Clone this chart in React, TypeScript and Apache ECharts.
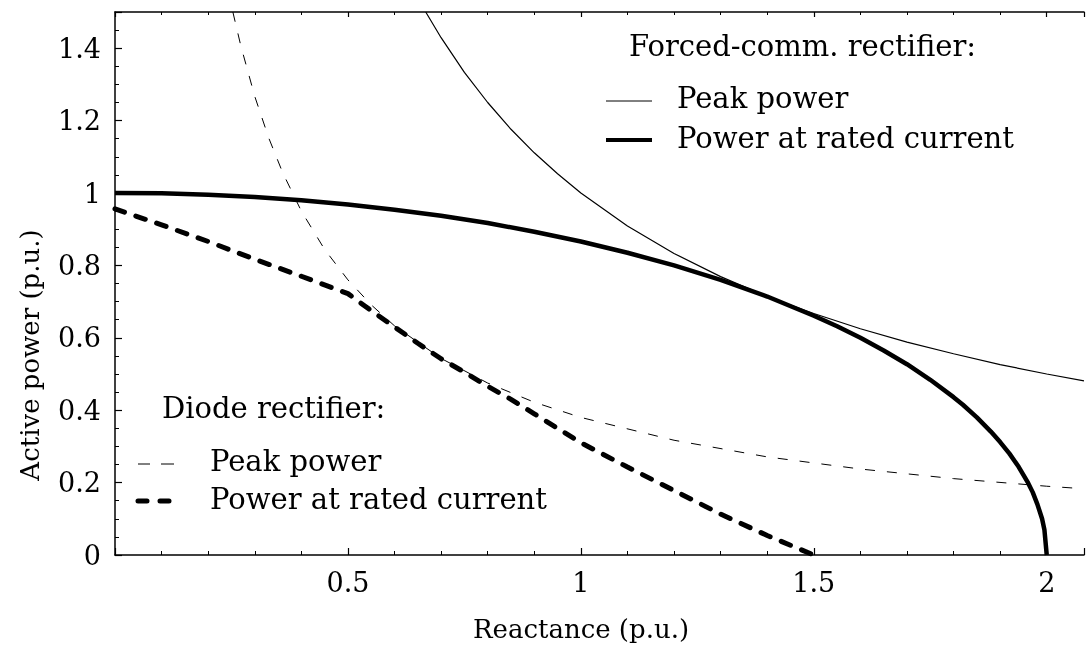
import React, { useEffect, useRef } from "react";
import * as echarts from "echarts";

// Forced-commutated rectifier
const forcedPeakX = [0.667, 0.7, 0.75, 0.8, 0.85, 0.9, 0.95, 1.0, 1.1, 1.2, 1.3, 1.4, 1.5, 1.6, 1.7, 1.8, 1.9, 2.0, 2.08];
const forcedPeakY = [1.5, 1.429, 1.333, 1.25, 1.176, 1.111, 1.053, 1.0, 0.909, 0.833, 0.769, 0.714, 0.667, 0.625, 0.588, 0.556, 0.526, 0.5, 0.481];
const forcedRatedX = [0, 0.1, 0.2, 0.3, 0.4, 0.5, 0.6, 0.7, 0.8, 0.9, 1.0, 1.1, 1.2, 1.3, 1.4, 1.5, 1.55, 1.6, 1.65, 1.7, 1.75, 1.8, 1.82, 1.85, 1.88, 1.9, 1.92, 1.94, 1.96, 1.97, 1.98, 1.99, 1.995, 2.0];
const forcedRatedY = [1.0, 0.999, 0.995, 0.989, 0.98, 0.968, 0.954, 0.937, 0.917, 0.893, 0.866, 0.835, 0.8, 0.76, 0.714, 0.661, 0.632, 0.6, 0.565, 0.527, 0.484, 0.436, 0.415, 0.38, 0.341, 0.312, 0.28, 0.243, 0.199, 0.173, 0.14, 0.1, 0.07, 0];

// Diode rectifier
const diodePeakX = [0.253, 0.27, 0.3, 0.33, 0.36, 0.4, 0.45, 0.5, 0.55, 0.6, 0.7, 0.8, 0.9, 1.0, 1.2, 1.4, 1.6, 1.8, 2.0, 2.08];
const diodePeakY = [1.5, 1.407, 1.267, 1.152, 1.056, 0.95, 0.844, 0.76, 0.691, 0.633, 0.543, 0.475, 0.422, 0.38, 0.317, 0.271, 0.2375, 0.211, 0.19, 0.183];
const diodeRatedX = [0, 0.1, 0.2, 0.3, 0.4, 0.5, 0.55, 0.6, 0.65, 0.7, 0.75, 0.8, 0.85, 0.9, 0.95, 1.0, 1.1, 1.2, 1.3, 1.4, 1.5];
const diodeRatedY = [0.956, 0.912, 0.866, 0.817, 0.77, 0.722, 0.675, 0.63, 0.585, 0.542, 0.505, 0.466, 0.43, 0.39, 0.35, 0.31, 0.243, 0.178, 0.113, 0.054, 0];

const xTickLabels = ["0.5", "1", "1.5", "2"];
const yTickLabels = ["0", "0.2", "0.4", "0.6", "0.8", "1", "1.2", "1.4"];

const xAxisTitle = "Reactance (p.u.)";
const yAxisTitle = "Active power (p.u.)";
const forcedTitle = "Forced-comm. rectifier:";
const diodeTitle = "Diode rectifier:";
const peakLabel = "Peak power";
const ratedLabel = "Power at rated current";

const zip = (xs: number[], ys: number[]) => xs.map((x, i) => [x, ys[i]]);

const FONT = "DejaVu Serif";
const FS = 27;
const LFS = 29;

export default function App() {
  const ref = useRef<HTMLDivElement>(null);
  useEffect(() => {
    if (!ref.current) return;
    const chart = echarts.init(ref.current, undefined, { renderer: "svg" });
    const axisCommon = {
      type: "value" as const,
      axisLine: { show: true, lineStyle: { color: "#000", width: 1.5 } },
      axisTick: { show: true, inside: true, length: 7, lineStyle: { color: "#000", width: 1.2 } },
      minorTick: { show: true, length: 4, lineStyle: { color: "#000", width: 1 } },
      splitLine: { show: false },
      minorSplitLine: { show: false },
    };
    const text = (t: string, x: number, y: number, size: number, extra: any = {}) => ({
      type: "text",
      x,
      y,
      ...extra,
      style: { text: t, fill: "#000", font: `${size}px "${FONT}"`, textVerticalAlign: "middle", ...(extra.style || {}) },
    });
    const seg = (x1: number, x2: number, y: number, w: number, dash?: number[]) => ({
      type: "line",
      shape: { x1, y1: y, x2, y2: y },
      style: { stroke: "#000", lineWidth: w, lineDash: dash, lineCap: dash && w > 2 ? "round" : "butt" },
    });
    chart.setOption({
      animation: false,
      grid: { left: 115, right: 0, top: 12, bottom: 107 },
      xAxis: [
        {
          ...axisCommon,
          position: "bottom",
          min: 0,
          max: 2.08,
          interval: 0.5,
          minorTick: { ...axisCommon.minorTick, splitNumber: 5 },
          axisLabel: {
            color: "#000",
            fontFamily: FONT,
            fontSize: FS,
            margin: 14,
            formatter: (v: number) => {
              const s = String(Math.round(v * 100) / 100);
              return xTickLabels.includes(s) ? s : "";
            },
          },
        },
        {
          ...axisCommon,
          position: "top",
          min: 0,
          max: 2.08,
          interval: 0.5,
          axisTick: { ...axisCommon.axisTick, length: 5 },
          minorTick: { ...axisCommon.minorTick, splitNumber: 5, length: 3 },
          axisLabel: { show: false },
        },
      ],
      yAxis: [
        {
          ...axisCommon,
          position: "left",
          min: 0,
          max: 1.5,
          interval: 0.2,
          minorTick: { ...axisCommon.minorTick, splitNumber: 4 },
          axisLabel: {
            color: "#000",
            fontFamily: FONT,
            fontSize: FS,
            margin: 14,
            formatter: (v: number) => {
              const s = String(Math.round(v * 100) / 100);
              return yTickLabels.includes(s) ? s : "";
            },
          },
        },
      ],
      series: [
        {
          type: "line",
          data: zip(diodePeakX, diodePeakY),
          showSymbol: false,
          lineStyle: { color: "#000", width: 1, type: [10, 12] },
        },
        {
          type: "line",
          data: zip(forcedPeakX, forcedPeakY),
          showSymbol: false,
          lineStyle: { color: "#000", width: 1.2 },
        },
        {
          type: "line",
          data: zip(diodeRatedX, diodeRatedY),
          showSymbol: false,
          lineStyle: { color: "#000", width: 5, type: [10, 12], cap: "round" },
        },
        {
          type: "line",
          data: zip(forcedRatedX, forcedRatedY),
          showSymbol: false,
          lineStyle: { color: "#000", width: 4.5 },
        },
      ],
      graphic: [
        text(forcedTitle, 629, 46, LFS),
        seg(606, 652, 101, 1),
        text(peakLabel, 677, 98, LFS),
        seg(606, 652, 140, 4),
        text(ratedLabel, 677, 138, LFS),
        text(diodeTitle, 162, 408, LFS),
        seg(138, 150, 464, 1),
        seg(161, 174, 464, 1),
        text(peakLabel, 210, 461, LFS),
        seg(138, 172, 501, 5, [9, 13]),
        text(ratedLabel, 210, 499, LFS),
        text(xAxisTitle, 581, 629, 26, { style: { textAlign: "center" } }),
        text(yAxisTitle, 30, 355, 26, { rotation: Math.PI / 2, style: { textAlign: "center" } }),
      ],
    });
    return () => chart.dispose();
  }, []);
  return <div ref={ref} style={{ position: "fixed", left: 0, top: 0, width: 1087, height: 662 }} />;
}
